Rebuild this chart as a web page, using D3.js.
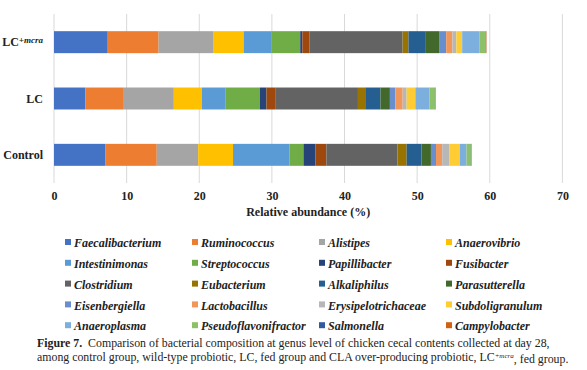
<!DOCTYPE html>
<html>
<head>
<meta charset="utf-8">
<script src="https://cdn.jsdelivr.net/npm/d3@7"></script>
<style>
  body { margin: 0; background: #fff; }
  text { font-family: "Liberation Serif", "DejaVu Serif", serif; }
</style>
</head>
<body>
<svg id="chart" width="587" height="370"></svg>
<script>
// groups, top to bottom as in the figure
const groups = ["LC+mcra", "LC", "Control"];

const genera = ["Faecalibacterium", "Ruminococcus", "Alistipes", "Anaerovibrio",
  "Intestinimonas", "Streptococcus", "Papillibacter", "Fusibacter",
  "Clostridium", "Eubacterium", "Alkaliphilus", "Parasutterella",
  "Eisenbergiella", "Lactobacillus", "Erysipelotrichaceae", "Subdoligranulum",
  "Anaeroplasma", "Pseudoflavonifractor", "Salmonella", "Campylobacter"];

const colors = ["#4472C4", "#ED7D31", "#A5A5A5", "#FFC000", "#5B9BD5", "#70AD47",
  "#264478", "#9E480E", "#636363", "#997300", "#255E91", "#43682B",
  "#698ED0", "#F1975A", "#B7B7B7", "#FFCD33", "#7CAFDD", "#8CC168",
  "#335AA1", "#D26012"];

// relative abundance (%) per genus, same order as genera
const lcMcra  = [7.4, 7.0, 7.5, 4.2, 3.8, 4.0, 0.3, 1.0, 12.8, 0.8, 2.3, 2.0, 0.9, 0.85, 0.55, 0.8, 2.4, 0.85, 0.05, 0.05];
const lc      = [4.3, 5.2, 7.0, 3.85, 3.3, 4.7, 0.9, 1.2, 11.4, 1.0, 2.1, 1.3, 0.75, 1.0, 0.55, 1.2, 1.95, 0.75, 0.05, 0.05];
const control = [7.1, 7.05, 5.7, 4.8, 7.8, 1.9, 1.65, 1.5, 9.8, 1.25, 2.05, 1.3, 0.7, 0.85, 0.95, 1.5, 0.9, 0.6, 0.05, 0.05];

const xTicks = [0, 10, 20, 30, 40, 50, 60, 70];

const SERIF = "'Liberation Serif', 'DejaVu Serif', serif";

const rows = [lcMcra, lc, control].map((vals, i) => {
  const r = { group: groups[i] };
  genera.forEach((g, j) => r[g] = vals[j]);
  return r;
});

const svg = d3.select("#chart").attr("font-family", SERIF);
const margin = {top: 14, left: 54, right: 24, bottom: 187};
const width = 587 - margin.left - margin.right;
const height = 370 - margin.top - margin.bottom;
const g = svg.append("g").attr("transform", `translate(${margin.left},${margin.top})`);

const x = d3.scaleLinear().domain([0, 70]).range([0, 508.4]);
const y = d3.scaleBand().domain(groups).range([0, height])
  .paddingInner(0.61).paddingOuter(0.305);

// gridlines
g.append("g")
  .selectAll("line")
  .data(xTicks)
  .join("line")
    .attr("x1", d => x(d)).attr("x2", d => x(d))
    .attr("y1", 0).attr("y2", height)
    .attr("stroke", "#d9d9d9")
    .attr("stroke-width", 1);

// stacked bars
const series = d3.stack().keys(genera)(rows);
g.append("g")
  .selectAll("g")
  .data(series)
  .join("g")
    .attr("fill", (d, i) => colors[i])
  .selectAll("rect")
  .data(d => d)
  .join("rect")
    .attr("x", d => x(d[0]))
    .attr("y", d => y(d.data.group))
    .attr("width", d => x(d[1]) - x(d[0]))
    .attr("height", y.bandwidth());

// x axis labels
const xAxis = g.append("g")
  .attr("transform", `translate(0,${height})`)
  .call(d3.axisBottom(x).tickValues(xTicks).tickSize(0).tickPadding(8))
  .attr("font-family", SERIF);
xAxis.select(".domain").remove();
xAxis.selectAll("text")
  .attr("font-size", 12)
  .attr("font-weight", "bold")
  .attr("fill", "#222");

g.append("text")
  .attr("x", x(35))
  .attr("y", height + 33)
  .attr("text-anchor", "middle")
  .attr("font-size", 12)
  .attr("font-weight", "bold")
  .attr("fill", "#222")
  .text("Relative abundance (%)");

// y labels
const yLab = g.append("g")
  .selectAll("text")
  .data(groups)
  .join("text")
    .attr("x", -11)
    .attr("y", d => y(d) + y.bandwidth() / 2)
    .attr("dy", "0.35em")
    .attr("text-anchor", "end")
    .attr("font-size", 12)
    .attr("font-weight", "bold")
    .attr("fill", "#222");
yLab.each(function(d) {
  const t = d3.select(this);
  if (d === "LC+mcra") {
    t.append("tspan").text("LC");
    t.append("tspan").attr("dy", "-0.4em").attr("font-size", 9)
      .attr("font-style", "italic").text("+mcra");
  } else {
    t.text(d);
  }
});

// legend
const legend = svg.append("g").attr("transform", "translate(65,243)");
const item = legend.selectAll("g")
  .data(genera)
  .join("g")
    .attr("transform", (d, i) => `translate(${(i % 4) * 127},${Math.floor(i / 4) * 20.8})`);
item.append("rect")
  .attr("x", 0).attr("y", -4)
  .attr("width", 6).attr("height", 6)
  .attr("fill", (d, i) => colors[i]);
item.append("text")
  .attr("x", 9)
  .attr("dy", "0.35em")
  .attr("font-size", 12)
  .attr("font-style", "italic")
  .attr("font-weight", "bold")
  .attr("fill", "#222")
  .text(d => d);

// caption
const cap = svg.append("g").attr("font-size", 11.85).attr("fill", "#222");
const l1 = cap.append("text").attr("x", 37).attr("y", 347);
l1.append("tspan").attr("font-weight", "bold").text("Figure 7.");
l1.append("tspan").text("\u00a0\u00a0Comparison of bacterial composition at genus level of chicken cecal contents collected at day 28,");
const l2 = cap.append("text").attr("x", 37).attr("y", 361);
l2.append("tspan").text("among control group, wild-type probiotic, LC, fed group and CLA over-producing probiotic, LC");
l2.append("tspan").attr("dy", "-0.4em").attr("font-size", 7).attr("font-style", "italic").text("+mcra");
l2.append("tspan").attr("dy", "0.4em").text(", fed group.");
</script>
</body>
</html>
